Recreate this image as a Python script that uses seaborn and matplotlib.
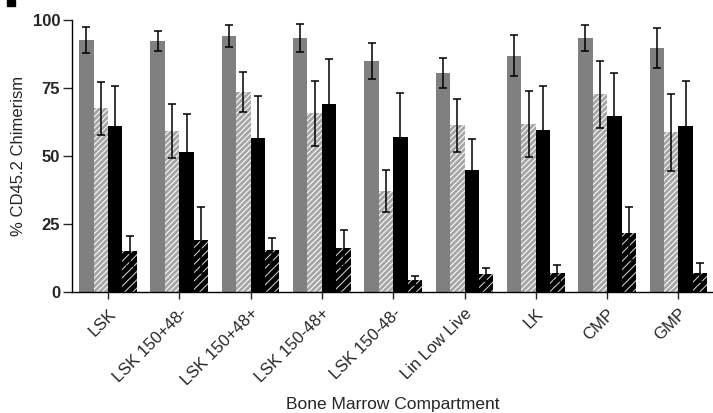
import numpy as np
import pandas as pd
import matplotlib
matplotlib.use("Agg")
import matplotlib.pyplot as plt
from matplotlib.patches import Rectangle
import seaborn as sns

# Bone marrow compartments on the x axis
compartments = ["LSK", "LSK 150+48-", "LSK 150+48+", "LSK 150-48+", "LSK 150-48-",
                "Lin Low Live", "LK", "CMP", "GMP"]
series = ["s1", "s2", "s3", "s4"]

# Mean % CD45.2 chimerism per series
s1_mean = [92.6, 92.3, 94.1, 93.4, 84.9, 80.5, 86.8, 93.4, 89.7]
s2_mean = [67.5, 59.2, 73.4, 65.7, 37.1, 61.3, 61.8, 72.7, 58.7]
s3_mean = [61.0, 51.5, 56.6, 69.1, 57.0, 44.9, 59.6, 64.7, 61.0]
s4_mean = [15.1, 19.1, 15.3, 16.1, 4.3, 6.5, 6.9, 21.6, 7.0]

# Error (one-sided extent of each error bar)
s1_err = [4.7, 3.7, 4.2, 5.1, 6.7, 5.5, 7.5, 4.8, 7.4]
s2_err = [9.6, 10.0, 7.3, 12.0, 7.6, 9.7, 12.2, 12.3, 14.2]
s3_err = [14.8, 14.1, 15.6, 16.5, 16.2, 11.5, 16.3, 15.9, 16.7]
s4_err = [5.5, 12.2, 4.7, 6.8, 1.7, 2.3, 2.9, 9.8, 3.5]

yticks = [0, 25, 50, 75, 100]

means = [s1_mean, s2_mean, s3_mean, s4_mean]
errs = [s1_err, s2_err, s3_err, s4_err]

df = pd.DataFrame({
    "compartment": np.tile(compartments, len(series)),
    "series": np.repeat(series, len(compartments)),
    "value": np.concatenate(means),
})

sns.set_style("white")
plt.rcParams["font.family"] = ["Liberation Sans", "DejaVu Sans"]
plt.rcParams["hatch.linewidth"] = 0.75

fig = plt.figure(figsize=(7.13, 4.13), dpi=100)
ax = fig.add_axes([0.101, 0.293, 0.899, 0.6586])

face = ["#808080", "#a6a6a6", "#000000", "#000000"]
hatch = [None, "//////", None, "////"]
edge = ["#808080", "white", "#000000", "#d0d0d0"]

sns.barplot(data=df, x="compartment", y="value", hue="series", order=compartments,
            hue_order=series, palette=face, width=0.81, errorbar=None,
            legend=False, ax=ax, zorder=2)

bar_containers = list(ax.containers)
for k, cont in enumerate(bar_containers):
    xs = []
    for p in cont.patches:
        p.set_facecolor(face[k])
        p.set_edgecolor(edge[k])
        p.set_linewidth(0)
        if hatch[k]:
            p.set_hatch(hatch[k])
        xs.append(p.get_x() + p.get_width() / 2)
    ax.errorbar(xs, means[k], yerr=errs[k], fmt="none", ecolor="black",
                elinewidth=1.1, capsize=3, capthick=1.1, zorder=3)

ax.set_ylim(0, 100)
ax.set_xlim(-0.505, 8.485)
ax.set_yticks(yticks)
ax.set_yticklabels([str(v) for v in yticks], fontsize=12, fontweight="bold")
ax.set_xticks(range(len(compartments)))
ax.set_xticklabels(compartments, rotation=45, ha="right", rotation_mode="anchor",
                   fontsize=12)
ax.tick_params(axis="y", direction="out", length=6.5, width=1, left=True, pad=2)
ax.tick_params(axis="x", direction="out", length=5, width=1, bottom=True, pad=5)

for s in ["top", "right"]:
    ax.spines[s].set_visible(False)
for s in ["left", "bottom"]:
    ax.spines[s].set_linewidth(1)
    ax.spines[s].set_color("black")

ax.set_ylabel("% CD45.2 Chimerism", fontsize=12, labelpad=5)
ax.set_xlabel("Bone Marrow Compartment", fontsize=12.5, labelpad=6)

# panel mark in the upper-left corner
fig.patches.append(Rectangle((7 / 713, 1 - 6 / 413), 8 / 713, 6 / 413,
                             transform=fig.transFigure, color="black"))

fig.savefig("out.png", dpi=100)
